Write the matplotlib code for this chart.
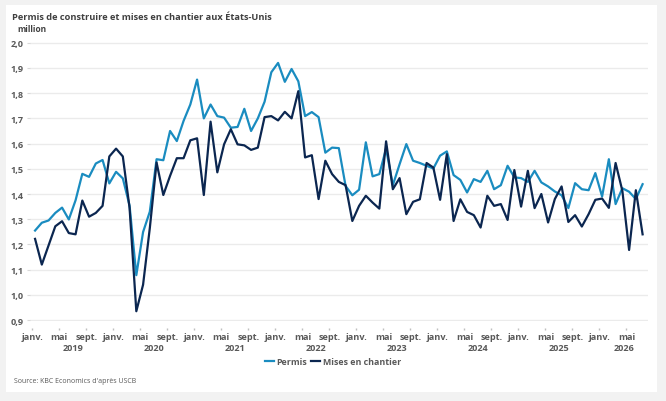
import matplotlib.pyplot as plt
import matplotlib.transforms as mtransforms
import numpy as np

# ~~~ data (monthly, janv. 2019 onwards), million units ~~~
permis = [
    1.255, 1.286, 1.295, 1.325, 1.346, 1.299, 1.375, 1.480, 1.468, 1.521, 1.535, 1.442,
    1.488, 1.462, 1.354, 1.078, 1.249, 1.330, 1.538, 1.534, 1.650, 1.610, 1.690, 1.755,
    1.854, 1.700, 1.755, 1.709, 1.703, 1.663, 1.666, 1.738, 1.650, 1.700, 1.766, 1.883,
    1.920, 1.845, 1.896, 1.847, 1.709, 1.725, 1.705, 1.564, 1.584, 1.582, 1.432, 1.395,
    1.417, 1.605, 1.470, 1.479, 1.580, 1.435, 1.518, 1.598, 1.532, 1.523, 1.512, 1.501,
    1.552, 1.569, 1.475, 1.456, 1.406, 1.459, 1.448, 1.492, 1.419, 1.435, 1.512, 1.466,
    1.463, 1.448, 1.492, 1.446, 1.430, 1.410, 1.395, 1.344, 1.443, 1.419, 1.415, 1.483,
    1.390, 1.538, 1.360, 1.423, 1.409, 1.380, 1.439,
]
mises = [
    1.222, 1.120, 1.196, 1.272, 1.292, 1.245, 1.240, 1.374, 1.310, 1.325, 1.353, 1.549,
    1.580, 1.549, 1.345, 0.935, 1.040, 1.265, 1.525, 1.396, 1.472, 1.542, 1.542, 1.613,
    1.621, 1.396, 1.687, 1.486, 1.597, 1.657, 1.597, 1.593, 1.575, 1.584, 1.705, 1.709,
    1.692, 1.726, 1.700, 1.808, 1.545, 1.554, 1.380, 1.532, 1.479, 1.448, 1.435, 1.293,
    1.353, 1.393, 1.366, 1.342, 1.609, 1.419, 1.463, 1.320, 1.369, 1.379, 1.523, 1.505,
    1.377, 1.558, 1.293, 1.379, 1.329, 1.316, 1.267, 1.393, 1.353, 1.360, 1.297, 1.495,
    1.350, 1.492, 1.344, 1.400, 1.287, 1.380, 1.430, 1.289, 1.316, 1.271, 1.320, 1.377,
    1.382, 1.345, 1.523, 1.413, 1.178, 1.415, 1.240,
]
years = [2019, 2020, 2021, 2022, 2023, 2024, 2025, 2026]
month_labels = ['janv.', 'mai', 'sept.']

plt.rcParams['font.family'] = ['Open Sans', 'DejaVu Sans']
grey = '#595959'
light_blue = '#1a8cc0'
dark_blue = '#0b2650'

fig = plt.figure(figsize=(6.66, 4.02), dpi=100)
fig.patch.set_facecolor('#f2f2f2')
panel = plt.Rectangle((6 / 666, 1 - 393 / 402), 651 / 666, 387 / 402,
                      transform=fig.transFigure, facecolor='white', edgecolor='none', zorder=-10)
fig.patches.append(panel)

ax = fig.add_axes([30 / 666, 1 - 321.8 / 402, 618 / 666, 278.8 / 402])
ax.set_facecolor('none')

x = np.arange(len(permis))
ax.plot(x, permis, color=light_blue, lw=1.6, label='Permis', zorder=3)
ax.plot(x, mises, color=dark_blue, lw=1.6, label='Mises en chantier', zorder=3)

ax.set_xlim(-0.75, 90.8)
ax.set_ylim(0.897, 2.003)
ax.set_yticks(np.arange(0.9, 2.01, 0.1))
ax.set_yticklabels([f'{v:.1f}'.replace('.', ',') for v in np.arange(0.9, 2.01, 0.1)])
ax.grid(axis='y', color='#ebebeb', lw=1)
ax.set_axisbelow(True)
for s in ax.spines.values():
    s.set_visible(False)
ax.spines['bottom'].set_position(('outward', 5))

# month ticks (janv./mai/sept.) and longer janv. marks
pos, labs = [], []
for k, yr in enumerate(years):
    for m, lab in zip([0, 4, 8], month_labels):
        p = 12 * k + m - 0.4
        if p <= 90.8:
            pos.append(p)
            labs.append(lab)
ax.set_xticks(pos)
ax.set_xticklabels(labs)
ax.set_xticks([12 * k - 0.4 for k in range(len(years))], minor=True)
ax.tick_params(axis='x', which='major', length=1.5, width=1, color='#bfbfbf',
               labelsize=6.6, labelcolor=grey, pad=1.5)
ax.tick_params(axis='x', which='minor', length=3.5, width=1, color='#bfbfbf')
ax.tick_params(axis='y', length=2.5, width=0.8, color='#d9d9d9',
               labelsize=6.6, labelcolor=grey, pad=2)
for t in ax.get_xticklabels() + ax.get_yticklabels():
    t.set_fontweight('bold')

trans = mtransforms.blended_transform_factory(ax.transData, ax.transAxes)
for k, yr in enumerate(years):
    start = 12 * k - 0.4
    end = min(start + 12, 90.8)
    ax.text((start + end) / 2, -0.095, str(yr), transform=trans, ha='center', va='center',
            fontsize=6.6, fontweight='bold', color=grey)

fig.text(12 / 666, 1 - 17 / 402, 'Permis de construire et mises en chantier aux États-Unis',
         fontsize=6.7, fontweight='bold', color='#404040', va='center', ha='left')
fig.text(17 / 666, 1 - 29.5 / 402, 'million', fontsize=6.0, fontweight='bold',
         color='#404040', va='center', ha='left')
fig.text(14 / 666, 1 - 382 / 402, "Source: KBC Economics d'après USCB", fontsize=5.0,
         color=grey, va='center', ha='left')

leg = fig.legend(loc='center', bbox_to_anchor=(333 / 666, 1 - 362.5 / 402), ncol=2,
                 frameon=False, handlelength=1.0, handletextpad=0.25, columnspacing=0.5,
                 prop={'size': 6.4, 'weight': 'bold'})
for t in leg.get_texts():
    t.set_color(grey)

fig.savefig('out.png', dpi=100, facecolor=fig.get_facecolor())
